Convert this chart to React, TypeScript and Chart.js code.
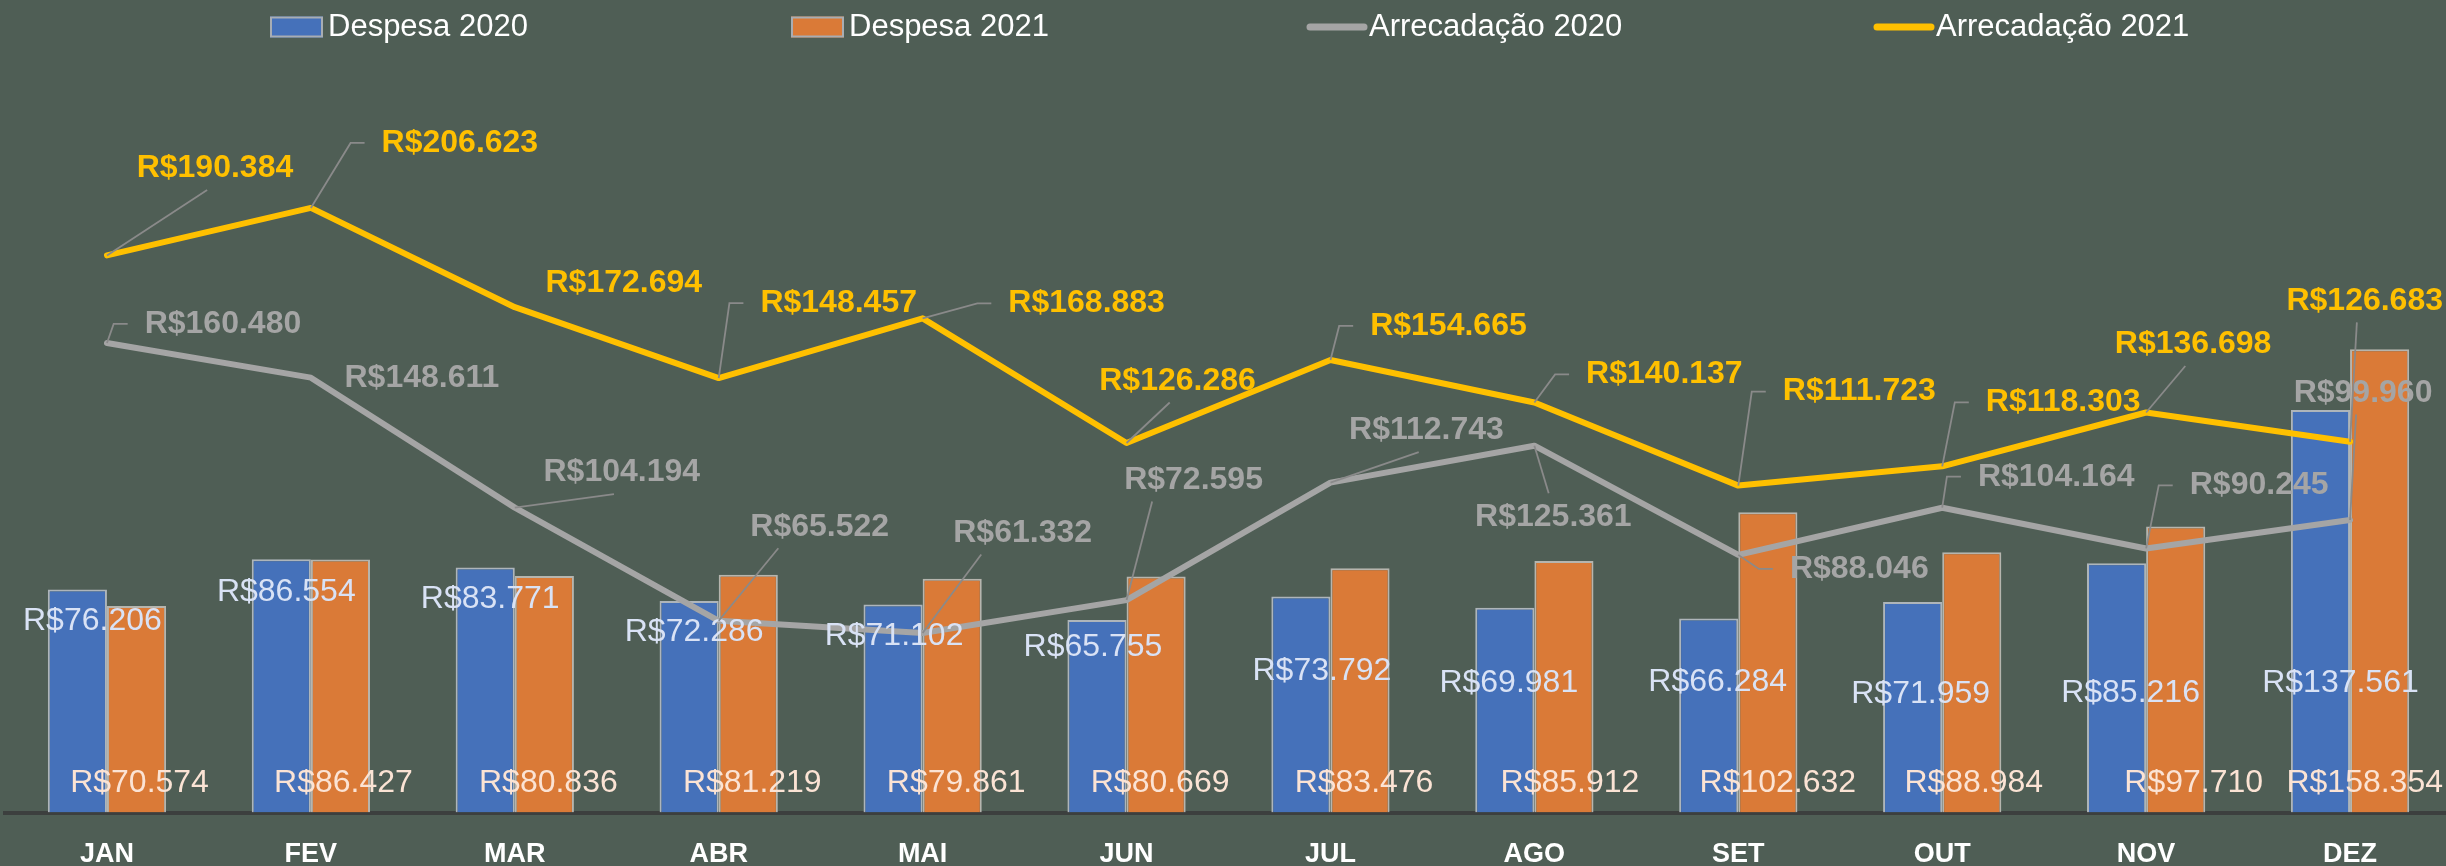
import React, { useEffect, useRef } from 'react';
import { Chart, registerables } from 'chart.js';

Chart.register(...registerables);

// ---------- data ----------
const categories = ['JAN', 'FEV', 'MAR', 'ABR', 'MAI', 'JUN', 'JUL', 'AGO', 'SET', 'OUT', 'NOV', 'DEZ'];
const despesa2020 = [76.206, 86.554, 83.771, 72.286, 71.102, 65.755, 73.792, 69.981, 66.284, 71.959, 85.216, 137.561];
const despesa2021 = [70.574, 86.427, 80.836, 81.219, 79.861, 80.669, 83.476, 85.912, 102.632, 88.984, 97.71, 158.354];
const arrecadacao2020 = [160.48, 148.611, 104.194, 65.522, 61.332, 72.595, 112.743, 125.361, 88.046, 104.164, 90.245, 99.96];
const arrecadacao2021 = [190.384, 206.623, 172.694, 148.457, 168.883, 126.286, 154.665, 140.137, 111.723, 118.303, 136.698, 126.683];
const seriesNames = ['Despesa 2020', 'Despesa 2021', 'Arrecadação 2020', 'Arrecadação 2021'];

// ---------- label placement (px offsets from each point, leader style) ----------
const despesa2020LabelOffsets: [number, number][] = [
  [15, 32], [5, 33], [5, 31.5], [5, 31], [1, 31.5], [-4, 27], [21, 75], [4, 75], [9, 64], [8, 92], [14, 130], [20, 273],
];
const despesa2021LabelDx = [3, 3, 4, 4, 4, 4, 4, 6, 10, 2, 18, 4];
const arrec2020LabelOffsets: [number, number, string][] = [
  [116, -19, 'L'], [111, 1, ''], [107, -35, 'B'], [101, -94, 'b'], [100, -100, 'b'], [67, -120, 'b'],
  [96, -52, 'B'], [19, 71, 'T'], [121, 14, 'L'], [114, -31, 'L'], [113, -63, 'L'], [13, -127, 'B'],
];
const arrec2021LabelOffsets: [number, number, string][] = [
  [108, -87, 'B'], [149, -65, 'L'], [109, -24, ''], [120, -75, 'L'], [164, -15, 'L'], [51, -62, 'B'],
  [118, -34, 'L'], [130, -28, 'L'], [121, -94, 'L'], [121, -64, 'L'], [47, -68, 'B'], [15, -141, 'B'],
];

// ---------- styles ----------
const BG = '#4f5e55';
const BLUE = '#4571ba';
const ORANGE = '#da7a37';
const GRAY = '#a5a5a5';
const YELLOW = '#ffc000';
const BLUE_LABEL = '#d9e2f5';
const ORANGE_LABEL = '#fbe3d4';
const LEADER = '#8a8a8a';
const FONT = '"Liberation Sans", Arial, sans-serif';
const VISIBLE_W = 2446;
const CANVAS_W = 2452;
const H = 866;

const fmt = (v: number) => 'R$' + v.toFixed(3);

function drawLeader(ctx: CanvasRenderingContext2D, px: number, py: number, box: any, mode: string) {
  if (!mode) return;
  ctx.beginPath();
  ctx.moveTo(px, py);
  if (mode === 'L') {
    ctx.lineTo(box.left - 31, box.cy);
    ctx.lineTo(box.left - 17, box.cy);
  } else if (mode === 'B') {
    ctx.lineTo(box.left + 0.45 * box.w, box.bottom + 10);
  } else if (mode === 'b') {
    ctx.lineTo(box.left + 28, box.bottom + 10);
  } else if (mode === 'T') {
    ctx.lineTo(box.left + 0.47 * box.w, box.top - 12);
  }
  ctx.stroke();
}

function drawText(ctx: CanvasRenderingContext2D, text: string, cx: number, cy: number) {
  const w = ctx.measureText(text).width;
  let left = cx - w / 2;
  if (left + w > VISIBLE_W - 3) left = VISIBLE_W - 3 - w;
  if (left < 2) left = 2;
  ctx.fillText(text, left, cy);
  return { left, w, cy, top: cy - 11.5, bottom: cy + 11.5 };
}

const labelsPlugin = {
  id: 'customLabels',
  afterDatasetsDraw(chart: any) {
    const ctx: CanvasRenderingContext2D = chart.ctx;
    ctx.save();
    ctx.textAlign = 'left';
    ctx.textBaseline = 'middle';

    // bar labels
    const mBlue = chart.getDatasetMeta(0);
    const mOrange = chart.getDatasetMeta(1);
    ctx.font = `32px ${FONT}`;
    ctx.fillStyle = BLUE_LABEL;
    mBlue.data.forEach((el: any, i: number) => {
      const [dx, dy] = despesa2020LabelOffsets[i];
      drawText(ctx, fmt(despesa2020[i]), el.x + dx, el.y + dy);
    });
    ctx.fillStyle = ORANGE_LABEL;
    mOrange.data.forEach((el: any, i: number) => {
      drawText(ctx, fmt(despesa2021[i]), el.x + despesa2021LabelDx[i], el.base - 29.5);
    });

    // line labels with leader lines
    const lineSets: [number, number[], [number, number, string][], string][] = [
      [2, arrecadacao2020, arrec2020LabelOffsets, GRAY],
      [3, arrecadacao2021, arrec2021LabelOffsets, YELLOW],
    ];
    ctx.font = `bold 32px ${FONT}`;
    lineSets.forEach(([idx, values, offsets, color]) => {
      const meta = chart.getDatasetMeta(idx);
      meta.data.forEach((el: any, i: number) => {
        const [dx, dy, mode] = offsets[i];
        ctx.fillStyle = color;
        const box = drawText(ctx, fmt(values[i]), el.x + dx, el.y + dy);
        ctx.strokeStyle = LEADER;
        ctx.lineWidth = 1.8;
        drawLeader(ctx, el.x, el.y, box, mode);
      });
    });
    ctx.restore();
  },
};

const legendPlugin = {
  id: 'customLegend',
  afterDraw(chart: any) {
    const ctx: CanvasRenderingContext2D = chart.ctx;
    ctx.save();
    const cy = 27;
    const items = [
      { kind: 'box', color: BLUE, x: 270, name: seriesNames[0] },
      { kind: 'box', color: ORANGE, x: 791, name: seriesNames[1] },
      { kind: 'line', color: GRAY, x: 1306, name: seriesNames[2] },
      { kind: 'line', color: YELLOW, x: 1873, name: seriesNames[3] },
    ];
    ctx.font = `31px ${FONT}`;
    ctx.textBaseline = 'middle';
    ctx.textAlign = 'left';
    items.forEach((it) => {
      let tx;
      if (it.kind === 'box') {
        ctx.fillStyle = it.color;
        ctx.fillRect(it.x, cy - 10.5, 53, 21);
        ctx.strokeStyle = '#a8adb3';
        ctx.lineWidth = 2;
        ctx.strokeRect(it.x + 1, cy - 9.5, 51, 19);
        tx = it.x + 58;
      } else {
        ctx.strokeStyle = it.color;
        ctx.lineWidth = 7;
        ctx.lineCap = 'round';
        ctx.beginPath();
        ctx.moveTo(it.x + 4, cy);
        ctx.lineTo(it.x + 58, cy);
        ctx.stroke();
        tx = it.x + 63;
      }
      ctx.fillStyle = '#ffffff';
      ctx.fillText(it.name, tx, cy);
    });
    ctx.restore();
  },
};

export default function App() {
  const ref = useRef<HTMLCanvasElement>(null);
  useEffect(() => {
    if (!ref.current) return;
    const chart = new Chart(ref.current, {
      type: 'bar',
      data: {
        labels: categories,
        datasets: [
          {
            type: 'bar',
            label: seriesNames[0],
            data: despesa2020,
            backgroundColor: BLUE,
            borderColor: 'rgba(190,196,204,0.85)',
            borderWidth: 2,
            categoryPercentage: 0.58,
            barPercentage: 1.0,
            order: 2,
          },
          {
            type: 'bar',
            label: seriesNames[1],
            data: despesa2021,
            backgroundColor: ORANGE,
            borderColor: 'rgba(200,196,190,0.85)',
            borderWidth: 2,
            categoryPercentage: 0.58,
            barPercentage: 1.0,
            order: 2,
          },
          {
            type: 'line',
            label: seriesNames[2],
            data: arrecadacao2020,
            borderColor: GRAY,
            backgroundColor: GRAY,
            borderWidth: 6,
            pointRadius: 0,
            tension: 0,
            borderCapStyle: 'round',
            borderJoinStyle: 'round',
            order: 1,
          },
          {
            type: 'line',
            label: seriesNames[3],
            data: arrecadacao2021,
            borderColor: YELLOW,
            backgroundColor: YELLOW,
            borderWidth: 6,
            pointRadius: 0,
            tension: 0,
            borderCapStyle: 'round',
            borderJoinStyle: 'round',
            order: 0,
          },
        ],
      } as any,
      options: {
        responsive: false,
        animation: false,
        devicePixelRatio: 1,
        layout: { padding: { top: 81, left: 5, right: 0, bottom: 0 } },
        plugins: { legend: { display: false }, tooltip: { enabled: false } },
        scales: {
          y: { display: false, min: 0, max: 250 },
          x: {
            grid: { display: false, drawTicks: false },
            border: { display: true, color: '#3c3f3e', width: 4 },
            ticks: {
              color: '#ffffff',
              font: { family: FONT, size: 27, weight: 'bold' },
              padding: 26,
              maxRotation: 0,
              autoSkip: false,
            },
            afterFit: (scale: any) => {
              scale.height = H - 812.5;
            },
          },
        },
      } as any,
      plugins: [labelsPlugin, legendPlugin],
    });
    return () => chart.destroy();
  }, []);

  return (
    <div
      style={{
        position: 'fixed',
        left: 0,
        top: 0,
        width: VISIBLE_W,
        height: H,
        overflow: 'hidden',
        background: BG,
      }}
    >
      <canvas ref={ref} width={CANVAS_W} height={H} style={{ display: 'block', width: CANVAS_W, height: H }} />
    </div>
  );
}
